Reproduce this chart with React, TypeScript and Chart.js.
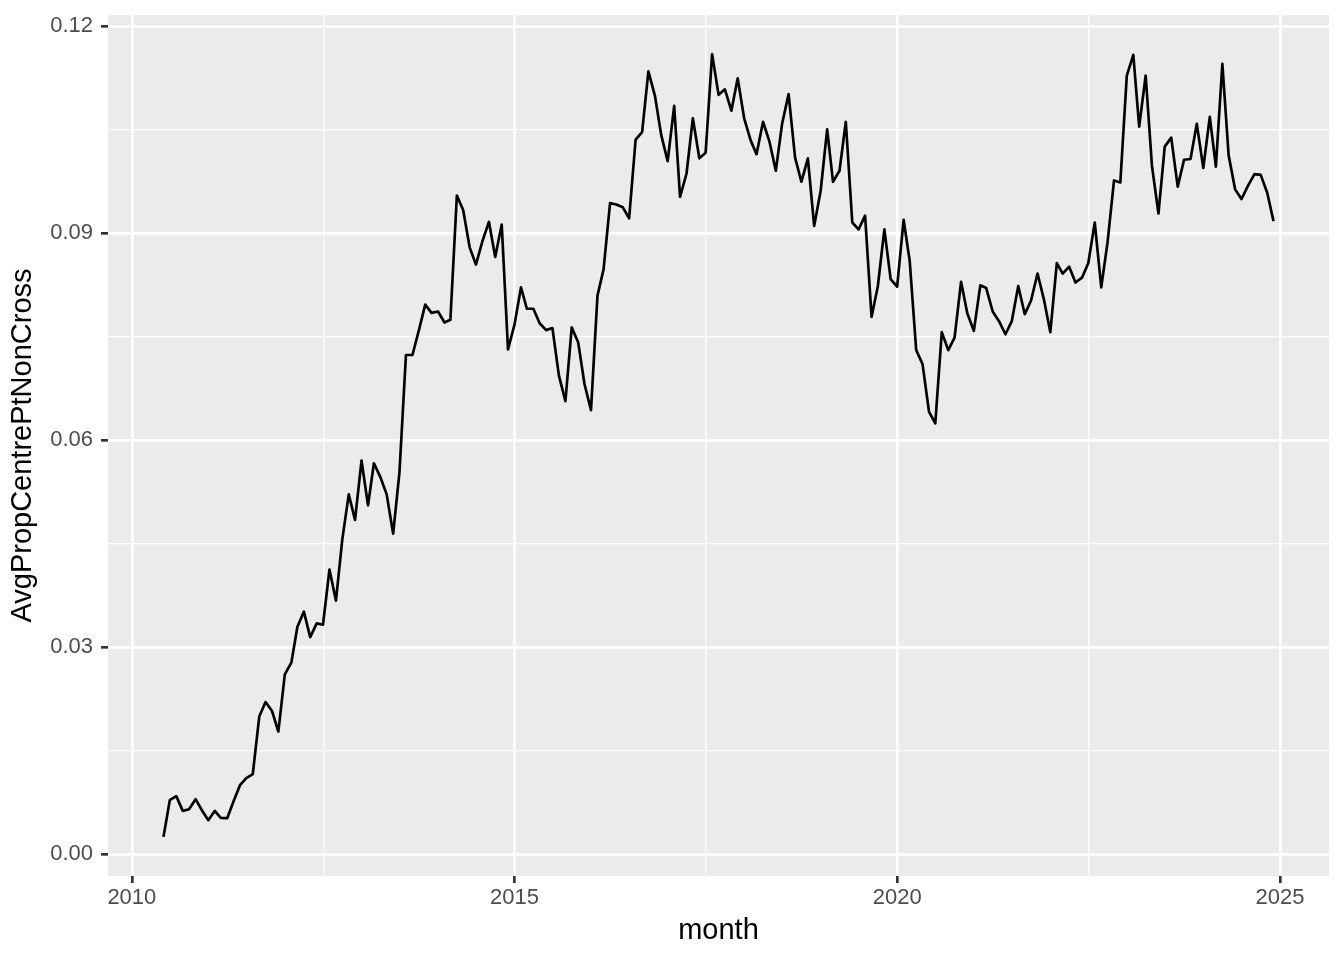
import React, { useEffect, useRef } from "react";
import { Chart, registerables } from "chart.js";

Chart.register(...registerables);

// First month of the series (June 2010), monthly values follow.
const FIRST_YEAR = 2010;
const FIRST_MONTH = 6;

const prop2010 = [0.00246, 0.00778, 0.00836, 0.00623, 0.00647, 0.00792, 0.00633];
const prop2011 = [0.00488, 0.00623, 0.00522, 0.00517, 0.00758, 0.00995, 0.01097, 0.01155, 0.0199, 0.022, 0.0207, 0.0177];
const prop2012 = [0.026, 0.0277, 0.0329, 0.0351, 0.0314, 0.0334, 0.0332, 0.0412, 0.0367, 0.0455, 0.0521, 0.0484];
const prop2013 = [0.057, 0.0505, 0.0566, 0.0546, 0.0521, 0.0464, 0.0553, 0.0723, 0.0723, 0.0758, 0.0796, 0.0784];
const prop2014 = [0.0786, 0.077, 0.0774, 0.0954, 0.0933, 0.0879, 0.0854, 0.0888, 0.0916, 0.0865, 0.0912, 0.0731];
const prop2015 = [0.0767, 0.0821, 0.079, 0.079, 0.0769, 0.0759, 0.0762, 0.0693, 0.0656, 0.0763, 0.0741, 0.0681];
const prop2016 = [0.0643, 0.0809, 0.0847, 0.0943, 0.0941, 0.0937, 0.0921, 0.1035, 0.1046, 0.1134, 0.1099, 0.1042];
const prop2017 = [0.1004, 0.1084, 0.0952, 0.0986, 0.1066, 0.1008, 0.1016, 0.1159, 0.11, 0.1108, 0.1077, 0.1124];
const prop2018 = [0.1066, 0.1034, 0.1014, 0.1061, 0.1033, 0.099, 0.1058, 0.1101, 0.1009, 0.0974, 0.1008, 0.091];
const prop2019 = [0.0961, 0.105, 0.0974, 0.099, 0.1061, 0.0915, 0.0905, 0.0925, 0.0778, 0.0823, 0.0905, 0.0833];
const prop2020 = [0.0822, 0.0919, 0.0859, 0.073, 0.071, 0.0641, 0.0624, 0.0756, 0.073, 0.0748, 0.0829, 0.0783];
const prop2021 = [0.0758, 0.0824, 0.082, 0.0786, 0.0772, 0.0753, 0.0772, 0.0823, 0.0782, 0.0802, 0.0841, 0.0804];
const prop2022 = [0.0756, 0.0856, 0.0841, 0.0851, 0.0828, 0.0835, 0.0856, 0.0915, 0.0821, 0.0886, 0.0976, 0.0973];
const prop2023 = [0.1128, 0.1158, 0.1054, 0.1128, 0.0997, 0.0928, 0.1025, 0.1038, 0.0967, 0.1006, 0.1007, 0.1058];
const prop2024 = [0.0994, 0.1068, 0.0996, 0.1145, 0.1012, 0.0963, 0.0949, 0.0968, 0.0985, 0.0984, 0.0958, 0.0917];

const yearlySeries = [
  prop2010, prop2011, prop2012, prop2013, prop2014, prop2015, prop2016, prop2017,
  prop2018, prop2019, prop2020, prop2021, prop2022, prop2023, prop2024,
];

const xMajorYears = [2010, 2015, 2020, 2025];
const yMajorTicks = [0, 0.03, 0.06, 0.09, 0.12];
const yTickLabels = ["0.00", "0.03", "0.06", "0.09", "0.12"];
const xAxisTitle = "month";
const yAxisTitle = "AvgPropCentrePtNonCross";

const DAY = 86400000;
const dayOf = (y: number, m: number) => Date.UTC(y, m - 1, 1) / DAY;

const FONT = "'Liberation Sans', Arial, Helvetica, sans-serif";

function buildPoints() {
  const values: number[] = ([] as number[]).concat(...yearlySeries);
  return values.map((v, i) => {
    const k = FIRST_MONTH - 1 + i;
    const y = FIRST_YEAR + Math.floor(k / 12);
    const m = (k % 12) + 1;
    return { x: dayOf(y, m), y: v };
  });
}

const panelBg = {
  id: "panelBg",
  beforeDraw(chart: any) {
    const { ctx, chartArea } = chart;
    ctx.save();
    ctx.fillStyle = "#FFFFFF";
    ctx.fillRect(0, 0, chart.width, chart.height);
    ctx.fillStyle = "#EBEBEB";
    ctx.fillRect(chartArea.left, chartArea.top, chartArea.right - chartArea.left, chartArea.bottom - chartArea.top);
    ctx.restore();
  },
};

export default function App() {
  const ref = useRef<HTMLCanvasElement | null>(null);

  useEffect(() => {
    if (!ref.current) return;
    document.body.style.overflow = "hidden";
    const points = buildPoints();
    const xs = points.map((p) => p.x);
    const ys = points.map((p) => p.y);
    const xLo0 = Math.min(...xs), xHi0 = Math.max(...xs);
    const yLo0 = Math.min(...ys), yHi0 = Math.max(...ys);
    const xPad = (xHi0 - xLo0) * 0.05;
    const yPad = (yHi0 - yLo0) * 0.05;
    const xMin = xLo0 - xPad, xMax = xHi0 + xPad;
    const yMin = yLo0 - yPad, yMax = yHi0 + yPad;

    const xMajor = xMajorYears.map((y) => dayOf(y, 1));
    const xMinor: number[] = [];
    for (let i = 0; i < xMajor.length - 1; i++) xMinor.push((xMajor[i] + xMajor[i + 1]) / 2);
    const yMinor: number[] = [];
    for (let i = 0; i < yMajorTicks.length - 1; i++) yMinor.push((yMajorTicks[i] + yMajorTicks[i + 1]) / 2);

    const xAll = [...xMajor, ...xMinor].filter((v) => v >= xMin && v <= xMax).sort((a, b) => a - b);
    const yAll = [...yMajorTicks, ...yMinor].filter((v) => v >= yMin && v <= yMax).sort((a, b) => a - b);

    const isMajorX = (v: number) => xMajor.some((m) => Math.abs(m - v) < 1e-6);
    const isMajorY = (v: number) => yMajorTicks.some((m) => Math.abs(m - v) < 1e-9);

    const MAJ = 2.67;
    const MIN = 1.33;

    const chart = new Chart(ref.current, {
      type: "line",
      data: {
        datasets: [
          {
            data: points,
            borderColor: "#000000",
            borderWidth: 2.67,
            pointRadius: 0,
            pointHoverRadius: 0,
            fill: false,
            tension: 0,
            borderJoinStyle: "round",
            borderCapStyle: "butt",
          },
        ],
      },
      options: {
        animation: false,
        responsive: false,
        devicePixelRatio: 1,
        events: [],
        layout: { padding: { top: 15, right: 15, left: 0, bottom: 0 } },
        plugins: {
          legend: { display: false },
          tooltip: { enabled: false },
          title: { display: false },
        },
        scales: {
          x: {
            type: "linear",
            bounds: "data",
            min: xMin,
            max: xMax,
            border: { display: false },
            grid: {
              color: "#FFFFFF",
              lineWidth: (c: any) => (c.tick && isMajorX(c.tick.value) ? MAJ : MIN),
              drawTicks: true,
              tickLength: 7,
              tickWidth: MAJ,
              tickColor: (c: any) => (c.tick && isMajorX(c.tick.value) ? "#333333" : "rgba(0,0,0,0)"),
            },
            afterBuildTicks: (scale: any) => {
              scale.ticks = xAll.map((v) => ({ value: v }));
            },
            ticks: {
              autoSkip: false,
              maxRotation: 0,
              minRotation: 0,
              padding: 2,
              color: "#4D4D4D",
              font: { family: FONT, size: 22 },
              callback: (v: any) => {
                const idx = xMajor.findIndex((m) => Math.abs(m - Number(v)) < 1e-6);
                return idx >= 0 ? String(xMajorYears[idx]) : "";
              },
            },
            title: {
              display: true,
              text: xAxisTitle,
              color: "#000000",
              font: { family: FONT, size: 29 },
              padding: { top: 0, bottom: 11.5 },
            },
            afterFit: (scale: any) => {
              scale.height = 84;
              scale.paddingLeft = 0;
              scale.paddingRight = 0;
            },
          },
          y: {
            type: "linear",
            bounds: "data",
            min: yMin,
            max: yMax,
            border: { display: false },
            grid: {
              color: "#FFFFFF",
              lineWidth: (c: any) => (c.tick && isMajorY(c.tick.value) ? MAJ : MIN),
              drawTicks: true,
              tickLength: 7,
              tickWidth: MAJ,
              tickColor: (c: any) => (c.tick && isMajorY(c.tick.value) ? "#333333" : "rgba(0,0,0,0)"),
            },
            afterBuildTicks: (scale: any) => {
              scale.ticks = yAll.map((v) => ({ value: v }));
            },
            ticks: {
              autoSkip: false,
              padding: 8,
              color: "#4D4D4D",
              font: { family: FONT, size: 22 },
              callback: (v: any) => {
                const idx = yMajorTicks.findIndex((m) => Math.abs(m - Number(v)) < 1e-9);
                return idx >= 0 ? yTickLabels[idx] : "";
              },
            },
            title: {
              display: true,
              text: yAxisTitle,
              color: "#000000",
              font: { family: FONT, size: 29 },
              padding: { top: 6, bottom: 0 },
            },
            afterFit: (scale: any) => {
              scale.width = 108;
              scale.paddingTop = 0;
              scale.paddingBottom = 0;
            },
          },
        },
      },
      plugins: [panelBg],
    } as any);

    return () => chart.destroy();
  }, []);

  return (
    <div style={{ position: "absolute", left: 0, top: 0, width: 1344, height: 960 }}>
      <canvas ref={ref} width={1344} height={960} style={{ display: "block", width: 1344, height: 960 }} />
    </div>
  );
}
